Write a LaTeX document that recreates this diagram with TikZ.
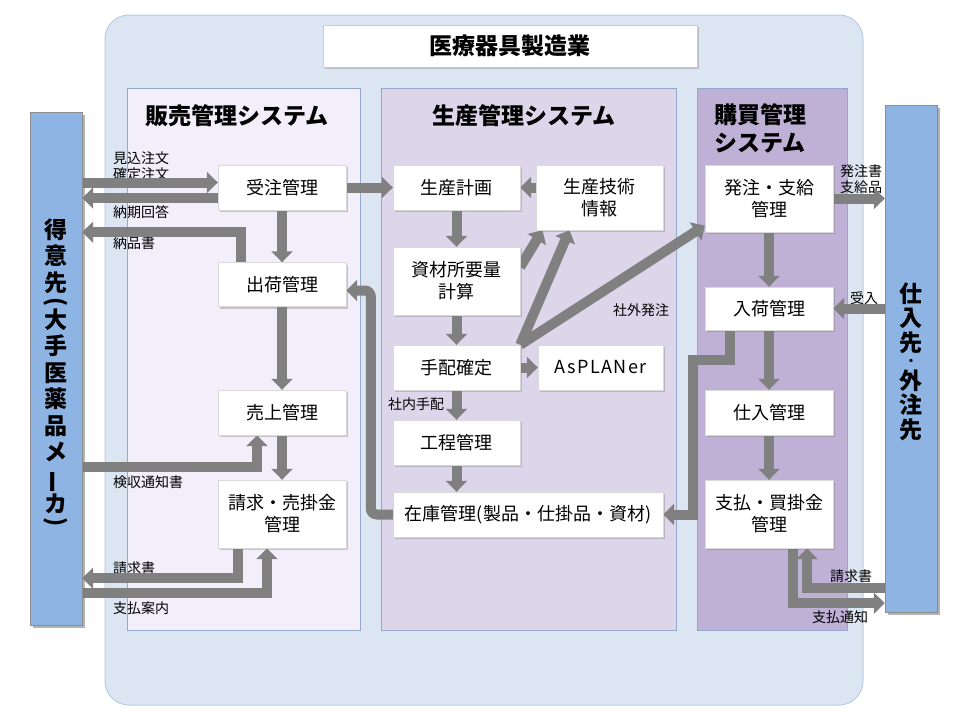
\documentclass[tikz,border=0pt]{standalone}
\usepackage{fontspec}
\setmainfont{Noto Sans CJK JP}
\usepackage{graphicx}
\usetikzlibrary{arrows.meta,shadows}
\definecolor{soto}{HTML}{DCE6F2}
\definecolor{sotosen}{HTML}{B9CDE5}
\definecolor{hanbaiiro}{HTML}{F3EFFA}
\definecolor{seisaniro}{HTML}{DDD5EA}
\definecolor{kobaiiro}{HTML}{BFB0D6}
\definecolor{panelsen}{HTML}{94A8CC}
\definecolor{baiiro}{HTML}{8DB4E2}
\definecolor{yajiiro}{HTML}{808080}
\pgfdeclarelayer{ura}
\pgfdeclarelayer{yaji}
\pgfsetlayers{ura,yaji,main}
\newcommand{\tatebou}{\rotatebox[origin=c]{90}{ー}}
\newcommand{\tatekakko}[1]{\rotatebox[origin=c]{-90}{#1}}

\begin{document}
\begin{tikzpicture}[x=1pt,y=-1pt,
	kanri/.style={draw=black!15,fill=white,drop shadow={shadow xshift=2pt,shadow yshift=-2pt,opacity=0.4},inner sep=0pt,minimum width=128pt,minimum height=45pt,align=center,font=\fontsize{18}{22}\selectfont},
	panel/.style={draw=panelsen,line width=0.6pt,inner sep=0pt,minimum height=542pt},
	midashi/.style={inner sep=0pt,font=\bfseries\fontsize{23}{28}\selectfont},
	hosoku/.style={inner sep=0pt,anchor=west,align=left,font=\fontsize{14}{16}\selectfont},
	bou/.style={draw=black!45,fill=baiiro,inner sep=0pt,minimum width=52pt,drop shadow={shadow xshift=3pt,shadow yshift=-3pt,opacity=0.6}},
	tatemoji/.style={inner sep=0pt,align=center,font=\bfseries\fontsize{23}{26.5}\selectfont},
	yaji/.style={draw=yajiiro,line width=10pt,-{Triangle[width=21pt,length=11pt]}}]
	\useasboundingbox (0,0) rectangle (960,720);
	\begin{pgfonlayer}{ura}
		\node[draw=sotosen,fill=soto,line width=1pt,rounded corners=24pt,minimum width=758pt,minimum height=690pt] (seizo) at (484,360) {};
		\node[panel,fill=hanbaiiro,minimum width=233pt] (hanbai) at (243.5,359) {};
		\node[panel,fill=seisaniro,minimum width=295pt] (seisan) at (528.5,359) {};
		\node[panel,fill=kobaiiro,minimum width=150pt] (kobai) at (772,359) {};
		\node[midashi,anchor=west] (hanbaimidashi) at (145,116) {販売管理システム};
		\node[midashi,anchor=west] (seisanmidashi) at (432,116) {生産管理システム};
		\node[midashi,anchor=north west,align=left] (kobaimidashi) at (714,103) {購買管理\\システム};
		\node[hosoku] (lmikomi) at (113,166) {見込注文\\確定注文};
		\node[hosoku] (lnoki) at (113,212) {納期回答};
		\node[hosoku] (lnohin) at (113,243) {納品書};
		\node[hosoku] (lkenshu) at (113,482) {検収通知書};
		\node[hosoku] (lseikyu) at (113,568) {請求書};
		\node[hosoku] (lannai) at (113,608) {支払案内};
		\node[hosoku] (lshagai) at (613,310) {社外発注};
		\node[hosoku] (lshanai) at (388,404) {社内手配};
		\node[hosoku] (lhatchu) at (840,179) {発注書\\支給品};
		\node[hosoku] (lukeire) at (850,298) {受入};
		\node[hosoku] (lseikyu2) at (830,576) {請求書};
		\node[hosoku] (ltsuchi) at (812,617) {支払通知};
	\end{pgfonlayer}

	\node[draw=black!20,fill=white,drop shadow={shadow xshift=2pt,shadow yshift=-2pt,opacity=0.4},minimum width=374pt,minimum height=42pt,font=\bfseries\fontsize{23}{26}\selectfont] (gyoshu) at (510,46) {医療器具製造業};

	\node[bou,minimum height=513pt] (tokui) at (56,368.5) {};
	\node[tatemoji] (tokuimoji) at (56,374) {得\\意\\先\\[-8pt]\tatekakko{(}\\[-8pt]大\\手\\医\\薬\\品\\メ\\\tatebou\\[-1pt]カ\\[-10pt]\tatekakko{)}};
	\node[bou,minimum height=507pt] (shiiresaki) at (911,358.5) {};
	\node[tatemoji,font=\bfseries\fontsize{23}{24.5}\selectfont] (shiiresakimoji) at (911,361.5) {仕\\入\\先\\[-10.5pt]{\fontsize{12}{12}\selectfont ・}\\[-0.5pt]外\\注\\先};

	\node[kanri] (juchu) at (282,187.5) {受注管理};
	\node[kanri,minimum height=44pt] (shukka) at (282,284.5) {出荷管理};
	\node[kanri] (uriage) at (282,412.5) {売上管理};
	\node[kanri,minimum height=68pt] (seikyu) at (282,514) {請求・売掛金\\管理};

	\node[kanri,minimum width=127pt] (keikaku) at (456.5,187.5) {生産計画};
	\node[kanri,minimum width=127pt,minimum height=65pt] (gijutsu) at (599.5,197.5) {生産技術\\情報};
	\node[kanri,minimum width=127pt,minimum height=68pt] (shizai) at (456.5,281) {資材所要量\\計算};
	\node[kanri,minimum width=127pt] (tehai) at (456.5,367.5) {手配確定};
	\node[kanri,minimum width=125pt] (asplaner) at (600.5,367.5) {\addfontfeatures{LetterSpace=8}AsPLANer};
	\node[kanri,minimum width=127pt] (kotei) at (456.5,442.5) {工程管理};
	\node[kanri,minimum width=270pt] (zaiko) at (528,514.5) {在庫管理(製品・仕掛品・資材)};

	\node[kanri,minimum height=67pt] (hatchu) at (769,198.5) {発注・支給\\管理};
	\node[kanri,minimum height=43pt] (nyuka) at (769,308.5) {入荷管理};
	\node[kanri] (shiire) at (769,412.5) {仕入管理};
	\node[kanri,minimum height=68pt] (shiharai) at (769,514) {支払・買掛金\\管理};

	\begin{pgfonlayer}{yaji}
		\coordinate (mikomi) at ([yshift=5pt]juchu.west);
		\coordinate (noki) at ([yshift=-10.5pt]juchu.west);
		\coordinate (nohin) at ([xshift=-41pt,yshift=-22pt]juchu.south);
		\coordinate (kenshu) at ([xshift=-25pt,yshift=-32pt]uriage.south);
		\coordinate (seikyusho) at ([xshift=-44pt,yshift=-30pt]seikyu.south);
		\coordinate (annai) at ([xshift=-15pt,yshift=-45pt]seikyu.south);
		\coordinate (modori) at ([xshift=-22pt]zaiko.west);
		\coordinate (nyukaore) at ([xshift=-76pt,yshift=-30pt]nyuka.south);
		\coordinate (seikyusho2) at ([xshift=38pt,yshift=-40pt]shiharai.south);
		\coordinate (tsuchi) at ([xshift=24pt,yshift=-55pt]shiharai.south);

		\draw[yaji] (tokui.east |- mikomi) -- (mikomi);
		\draw[yaji] (noki) -- (tokui.east |- noki);
		\draw[yaji] (shukka.north -| nohin) -- (nohin) -- (tokui.east |- nohin);
		\draw[yaji] (juchu) -- (shukka);
		\draw[yaji] (juchu) -- (keikaku);
		\draw[yaji] (shukka) -- (uriage);
		\draw[yaji] (tokui.east |- kenshu) -- (kenshu) -- (uriage.south -| kenshu);
		\draw[yaji] (uriage) -- (seikyu);
		\draw[yaji] (seikyu.south -| seikyusho) -- (seikyusho) -- (tokui.east |- seikyusho);
		\draw[yaji] (tokui.east |- annai) -- (annai) -- (seikyu.south -| annai);

		\draw[yaji] (gijutsu.west |- keikaku) -- (keikaku.east);
		\draw[yaji] (keikaku) -- (shizai);
		\draw[yaji] ([yshift=14pt]shizai.east) -- ([xshift=-57pt]gijutsu.south);
		\draw[yaji] (tehai.north east) -- ([xshift=-30pt]gijutsu.south);
		\draw[yaji] (tehai.north east) -- ([yshift=-27pt]hatchu.west);
		\draw[yaji] (shizai) -- (tehai);
		\draw[yaji] (tehai) -- (asplaner);
		\draw[yaji] (tehai) -- (kotei);
		\draw[yaji] (kotei) -- (kotei |- zaiko.north);
		\draw[yaji,rounded corners=6pt] (zaiko.west) -- (modori) |- ([yshift=-6pt]shukka.east);
		\draw[yaji] ([xshift=-39pt]nyuka.south) |- (nyukaore) |- (zaiko.east);

		\draw[yaji] (hatchu) -- (nyuka);
		\draw[yaji] (nyuka) -- (shiire);
		\draw[yaji] (shiire) -- (shiharai);
		\draw[yaji] (hatchu) -- (hatchu -| shiiresaki.west);
		\draw[yaji] (shiiresaki.west |- nyuka) -- (nyuka);
		\draw[yaji] (shiiresaki.west |- seikyusho2) -- (seikyusho2) -- (shiharai.south -| seikyusho2);
		\draw[yaji] (shiharai.south -| tsuchi) -- (tsuchi) -- (shiiresaki.west |- tsuchi);
	\end{pgfonlayer}
\end{tikzpicture}
\end{document}
